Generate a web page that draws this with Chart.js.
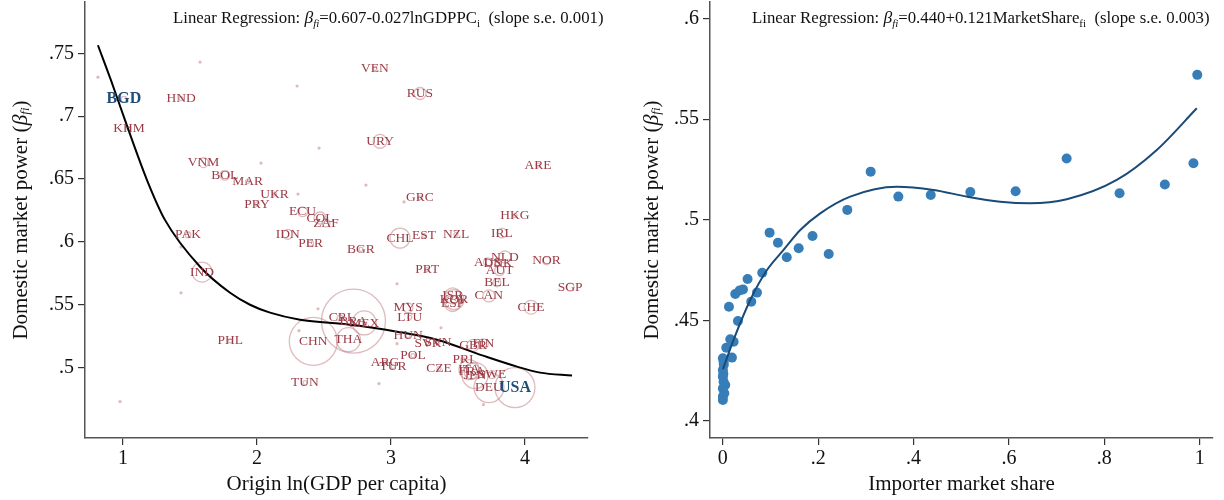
<!DOCTYPE html>
<html lang="en">
<head>
    <meta charset="UTF-8">
    <title>Domestic market power</title>
    <script src="https://cdn.jsdelivr.net/npm/chart.js"></script>
    <style>
        body { margin: 0; background: #fff; }
        .panels { display: flex; width: 1224px; height: 500px; }
        .panels canvas { display: block; }
    </style>
</head>
<body>
<div class="panels">
    <canvas id="gdpChart" width="612" height="500"></canvas>
    <canvas id="shareChart" width="612" height="500"></canvas>
</div>
<script>
    // ---- left panel: origin ln(GDP per capita) vs domestic market power ----
    const countries = ['BGD','HND','KHM','VNM','BOL','MAR','UKR','PRY','ECU','COL','ZAF','IDN','PER','PAK','IND',
        'BGR','CHL','EST','NZL','VEN','RUS','URY','ARE','GRC','HKG','IRL','NLD','AUS','DNK','AUT','NOR','SGP','PRT',
        'BEL','CAN','ISR','KOR','ESP','CHE','MYS','LTU','CRI','BRA','MEX','CHN','THA','PHL','TUN','HUN','SVK','SVN',
        'GBR','FIN','ARG','TUR','POL','CZE','PRI','ITA','FRA','JPN','SWE','DEU','USA'];
    const lnGdp = [1.007,1.433,1.045,1.60,1.76,1.93,2.13,2.0,2.34,2.47,2.515,2.23,2.40,1.485,1.59,
        2.776,3.067,3.246,3.485,2.88,3.216,2.918,4.097,3.216,3.925,3.828,3.85,3.72,3.80,3.81,4.16,4.336,3.27,
        3.79,3.73,3.46,3.47,3.46,4.045,3.127,3.14,2.62,2.72,2.80,2.42,2.682,1.80,2.358,3.127,3.276,3.35,
        3.612,3.689,2.955,3.015,3.164,3.358,3.537,3.582,3.604,3.627,3.754,3.731,3.925];
    const beta = [.7135,.714,.690,.663,.653,.648,.638,.630,.624,.619,.615,.606,.599,.6056,.576,
        .594,.603,.605,.606,.738,.718,.680,.661,.635,.621,.607,.588,.584,.583,.577,.585,.564,.578,
        .5675,.557,.557,.554,.551,.548,.5476,.540,.5397,.537,.5355,.5209,.5222,.5214,.488,.5254,.519,.520,
        .5177,.519,.504,.5008,.5095,.4992,.5063,.4984,.497,.4937,.4944,.4841,.4841];
    // relative trade weight of each origin (sets the hollow marker size)
    const weight = [2,1,1,6,6,1,1,1,6,9,4,6,2,2,25,
        1,25,1,1,1,9,12,1,1,1,6,9,4,2,6,4,4,1,
        4,9,16,25,16,12,6,1,2,256,36,144,36,1,1,1,1,1,
        9,6,1,1,1,1,1,25,16,42,4,56,100];
    const highlight = ['BGD','USA'];
    // origins without labels
    const otherGdp = [.813,1.575,2.299,2.463,2.03,2.306,2.813,3.097,1.433,1.433,2.455,2.313,3.045,3.373,3.045,2.91,.978,3.69];
    const otherBeta = [.731,.743,.724,.6746,.6627,.638,.6452,.6318,.596,.5595,.5468,.5294,.5667,.5317,.519,.4873,.473,.4706];
    // fitted curve
    const fitGdp = [.813,.910,1.015,1.179,1.313,1.575,1.799,1.948,2.097,2.321,2.694,3.045,3.343,3.687,3.940,4.112,4.351];
    const fitBeta = [.7564,.7286,.6968,.6492,.6175,.5802,.5595,.5500,.5437,.5381,.5341,.5286,.5222,.5095,.5008,.4960,.4937];
    const gdpTicks = [1, 2, 3, 4];
    const betaTicksL = [.5, .55, .6, .65, .7, .75];

    // ---- right panel: importer market share vs domestic market power ----
    const share = [.098,.1155,.134,.159,.188,.222,.261,.310,.368,.436,.519,.614,.721,.832,.927,.987,.995,
        .0826,.0518,.0715,.0595,.0421,.035,.026,.0128,.0316,.0155,.0225,.0071,0,.019,.0015,.002,.001,
        0,0,.0015,.005,0,.003,0,0];
    const shareBeta = [.4936,.4886,.4814,.4858,.4919,.4830,.5049,.5239,.5115,.5123,.5138,.5142,.5304,.5132,.5175,.5281,.5720,
        .4737,.4706,.4638,.4593,.4654,.4648,.4631,.4568,.4497,.4406,.4394,.4364,.4312,.4315,.4295,.428,.4235,
        .4253,.422,.4195,.4179,.4162,.4138,.4121,.4104];
    const fitShare = [0,.0224,.0574,.0925,.1273,.1623,.2042,.2671,.365,.4417,.5117,.5816,.6445,.7214,.8262,.9101,.994];
    const fitShareBeta = [.4257,.4403,.4601,.4750,.4850,.4949,.5032,.5115,.5164,.5148,.5115,.5090,.5082,.5102,.5198,.5347,.5554];
    const shareTicks = [0, .2, .4, .6, .8, 1];
    const betaTicksR = [.4, .45, .5, .55, .6];

    const SERIF = '"Liberation Serif", "DejaVu Serif", serif';
    const fmt = v => String(+Number(v).toFixed(2)).replace(/^0\./, '.');
    const zip = (xs, ys) => xs.map((x, i) => ({ x: x, y: ys[i] }));

    function richWidth(ctx, parts) {
        let w = 0;
        parts.forEach(p => { ctx.font = p.f; w += ctx.measureText(p.t).width; });
        return w;
    }
    function drawRich(ctx, parts, x, y) {
        parts.forEach(p => {
            ctx.font = p.f;
            ctx.fillText(p.t, x, y + (p.dy || 0));
            x += ctx.measureText(p.t).width;
        });
    }
    const yTitleParts = [
        { t: 'Domestic market power (', f: '21px ' + SERIF },
        { t: 'β', f: 'italic 22px ' + SERIF },
        { t: 'fi', f: 'italic 13px ' + SERIF, dy: 5 },
        { t: ')', f: '21px ' + SERIF }
    ];
    function header(formula, sub, se) {
        return [
            { t: 'Linear Regression: ', f: '16.8px ' + SERIF },
            { t: 'β', f: 'italic 17.5px ' + SERIF },
            { t: 'fi', f: 'italic 11px ' + SERIF, dy: 4 },
            { t: formula, f: '16.8px ' + SERIF },
            { t: sub, f: '11px ' + SERIF, dy: 4 },
            { t: '  (slope s.e. ' + se + ')', f: '16.8px ' + SERIF }
        ];
    }

    // draws axis titles, header note and (left panel) country labels
    const annotate = {
        id: 'annotate',
        afterDatasetsDraw(chart, args, opts) {
            const ctx = chart.ctx, a = chart.chartArea;
            const xs = chart.scales.x, ys = chart.scales.y;
            ctx.save();
            ctx.fillStyle = '#111';
            ctx.textBaseline = 'alphabetic';
            drawRich(ctx, opts.header, a.left + opts.headerDx, 23);

            ctx.textAlign = 'center';
            ctx.textBaseline = 'middle';
            ctx.font = '21px ' + SERIF;
            ctx.fillText(opts.xTitle, (a.left + a.right) / 2, 484);

            ctx.save();
            ctx.translate(opts.yTitleX, (a.top + a.bottom) / 2);
            ctx.rotate(-Math.PI / 2);
            ctx.textAlign = 'left';
            drawRich(ctx, yTitleParts, -richWidth(ctx, yTitleParts) / 2, 0);
            ctx.restore();

            if (opts.labels) {
                opts.labels.forEach((name, i) => {
                    const px = xs.getPixelForValue(lnGdp[i]);
                    const py = ys.getPixelForValue(beta[i]);
                    if (highlight.includes(name)) {
                        ctx.fillStyle = '#1f4e7a';
                        ctx.font = 'bold 16px ' + SERIF;
                    } else {
                        ctx.fillStyle = '#9c3b45';
                        ctx.font = '13.5px ' + SERIF;
                    }
                    ctx.fillText(name, px, py);
                });
            }
            ctx.restore();
        }
    };

    function axes(xMin, xMax, xTicks, yMin, yMax, yTicks, yWidth) {
        const common = {
            border: { display: true, color: '#555', width: 1.5 },
            grid: { drawOnChartArea: false, drawTicks: true, tickLength: 7, color: '#333', lineWidth: 1.2 },
            ticks: { color: '#111', font: { family: SERIF, size: 20 }, padding: 2, callback: v => fmt(v) }
        };
        return {
            x: Object.assign({}, common, {
                type: 'linear', min: xMin, max: xMax,
                afterBuildTicks: s => { s.ticks = xTicks.map(v => ({ value: v })); },
                afterFit: s => { s.height = 62; s.paddingLeft = 0; s.paddingRight = 0; }
            }),
            y: Object.assign({}, common, {
                type: 'linear', min: yMin, max: yMax,
                ticks: Object.assign({}, common.ticks, { padding: 4 }),
                afterBuildTicks: s => { s.ticks = yTicks.map(v => ({ value: v })); },
                afterFit: s => { s.width = yWidth; s.paddingTop = 0; s.paddingBottom = 0; }
            })
        };
    }

    const baseOptions = {
        responsive: false,
        devicePixelRatio: 1,
        animation: false,
        events: []
    };

    new Chart(document.getElementById('gdpChart'), {
        type: 'scatter',
        data: {
            datasets: [
                {
                    data: zip(fitGdp, fitBeta), showLine: true, pointRadius: 0,
                    borderColor: '#000', borderWidth: 2, cubicInterpolationMode: 'monotone', order: 0
                },
                {
                    data: zip(lnGdp, beta), pointRadius: weight.map(w => 2 * Math.sqrt(w)),
                    pointBackgroundColor: 'rgba(0,0,0,0)', pointBorderColor: 'rgba(190,120,128,0.5)',
                    pointBorderWidth: 1.3, order: 1
                },
                {
                    data: zip(otherGdp, otherBeta), pointRadius: 1.6,
                    pointBackgroundColor: 'rgba(200,140,148,0.6)', pointBorderWidth: 0, order: 2
                }
            ]
        },
        options: Object.assign({}, baseOptions, {
            layout: { autoPadding: false, padding: { top: 2, right: 24, left: 0, bottom: 0 } },
            scales: axes(.7164, 4.47, gdpTicks, .444, .7908, betaTicksL, 85),
            plugins: {
                legend: { display: false },
                tooltip: { enabled: false },
                annotate: {
                    headerDx: 88,
                    header: header('=0.607-0.027lnGDPPC', 'i', '0.001'),
                    xTitle: 'Origin ln(GDP per capita)',
                    yTitleX: 21,
                    labels: countries
                }
            }
        }),
        plugins: [annotate]
    });

    new Chart(document.getElementById('shareChart'), {
        type: 'scatter',
        data: {
            datasets: [
                {
                    data: zip(fitShare, fitShareBeta), showLine: true, pointRadius: 0,
                    borderColor: '#1a4a78', borderWidth: 2, cubicInterpolationMode: 'monotone', order: 0
                },
                {
                    data: zip(share, shareBeta), pointRadius: 5,
                    pointBackgroundColor: '#377eb8', pointBorderWidth: 0, order: 1
                }
            ]
        },
        options: Object.assign({}, baseOptions, {
            layout: { autoPadding: false, padding: { top: 2, right: 11, left: 0, bottom: 0 } },
            scales: axes(-.027, 1.028, shareTicks, .39155, .6082, betaTicksR, 98),
            plugins: {
                legend: { display: false },
                tooltip: { enabled: false },
                annotate: {
                    headerDx: 42,
                    header: header('=0.440+0.121MarketShare', 'fi', '0.003'),
                    xTitle: 'Importer market share',
                    yTitleX: 40
                }
            }
        }),
        plugins: [annotate]
    });
</script>
</body>
</html>
